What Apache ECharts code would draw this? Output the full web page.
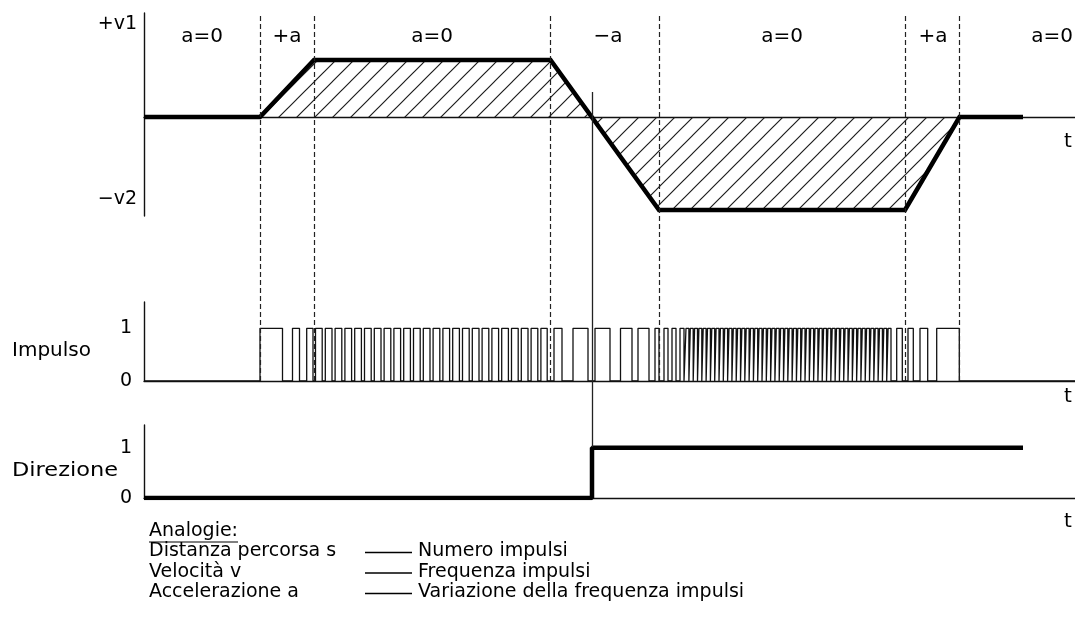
<!DOCTYPE html>
<html>
<head>
<meta charset="utf-8">
<script src="https://cdn.jsdelivr.net/npm/echarts@6/dist/echarts.min.js"></script>
<style>
  html, body { margin: 0; padding: 0; background: #fff; }
  #chart { width: 1075px; height: 623px; }
</style>
</head>
<body>
<div id="chart"></div>
<script>
// Time axis (ms) shared by all three traces
const T_MAX = 931;

// Velocity profile breakpoints
const velTime  = [0, 116, 170, 406.5, 515, 761, 815.5, 879];
const velValue = [0, 0, 2.85, 2.85, -4.65, -4.65, 0, 0];

// Acceleration phases written above the velocity trace
const phaseNames = ['a=0', '+a', 'a=0', '\u2212a', 'a=0', '+a', 'a=0'];
const phaseTime  = [58, 143, 288, 464, 638, 789, 908];
const phaseBoundaries = [116, 170, 406.5, 515, 761, 815.5];

// Direction signal
const dirTime  = [0, 448, 448, 879];
const dirValue = [0, 0, 1, 1];
const dirSwitch = 448;

// Pulse train: rising and falling edges (ms)
const pulseRise = [
  116, 148.5, 162.7,
  171.5, 181.3, 191.1, 200.9, 210.7, 220.5, 230.3, 240.1, 249.9, 259.7, 269.5, 279.3,
  289.1, 298.9, 308.7, 318.5, 328.3, 338.1, 347.9, 357.7, 367.5, 377.3, 387.1, 396.9,
  410, 429, 451, 476.5, 494, 511, 520, 528, 536,
  542.0, 546.3, 550.6, 554.9, 559.2, 563.5, 567.8, 572.1, 576.4, 580.7, 585.0, 589.3,
  593.6, 597.9, 602.2, 606.5, 610.8, 615.1, 619.4, 623.7, 628.0, 632.3, 636.6, 640.9,
  645.2, 649.5, 653.8, 658.1, 662.4, 666.7, 671.0, 675.3, 679.6, 683.9, 688.2, 692.5,
  696.8, 701.1, 705.4, 709.7, 714.0, 718.3, 722.6, 726.9, 731.2, 735.5, 739.8, 744.1,
  752.7, 764, 776, 792.7
];
const pulseFall = [
  138.5, 155.5, 169,
  178.2, 188.0, 197.8, 207.6, 217.4, 227.2, 237.0, 246.8, 256.6, 266.4, 276.2, 286.0,
  295.8, 305.6, 315.4, 325.2, 335.0, 344.8, 354.6, 364.4, 374.2, 384.0, 393.8, 403.2,
  418, 444, 466, 488, 505, 515, 524, 532, 540,
  544.9, 549.2, 553.5, 557.8, 562.1, 566.4, 570.7, 575.0, 579.3, 583.6, 587.9, 592.2,
  596.5, 600.8, 605.1, 609.4, 613.7, 618.0, 622.3, 626.6, 630.9, 635.2, 639.5, 643.8,
  648.1, 652.4, 656.7, 661.0, 665.3, 669.6, 673.9, 678.2, 682.5, 686.8, 691.1, 695.4,
  699.7, 704.0, 708.3, 712.6, 716.9, 721.2, 725.5, 729.8, 734.1, 738.4, 742.7, 747.0,
  758.3, 769.3, 783.7, 815.3
];

// Legend of analogies
const analogyTitle = 'Analogie:';
const analogyLeft  = ['Distanza percorsa s', 'Velocit\u00e0 v', 'Accelerazione a'];
const analogyRight = ['Numero impulsi', 'Frequenza impulsi', 'Variazione della frequenza impulsi'];

const FONT = '"DejaVu Sans", "Liberation Sans", sans-serif';
const INK = '#111';

// ---- derived series data ----
const velData = velTime.map((t, i) => [t, velValue[i]]);
const dirData = dirTime.map((t, i) => [t, dirValue[i]]);
const pulseData = [[0, 0]];
pulseRise.forEach((r, i) => {
  pulseData.push([r, 0], [r, 1], [pulseFall[i], 1], [pulseFall[i], 0]);
});
pulseData.push([T_MAX, 0]);

// diagonal hatch used to fill the area under the velocity trace
function hatchPattern() {
  const s = 18;
  const c = document.createElement('canvas');
  c.width = s; c.height = s;
  const g = c.getContext('2d');
  g.strokeStyle = '#1a1a1a';
  g.lineWidth = 1.15;
  for (const dx of [-s, 0, s]) {
    g.beginPath();
    g.moveTo(dx - 2, s + 2);
    g.lineTo(dx + s + 2, -2);
    g.stroke();
  }
  return c;
}

function textWidth(str, size) {
  const c = document.createElement('canvas').getContext('2d');
  c.font = size + 'px ' + FONT;
  return c.measureText(str).width;
}

const left = 144;
const grids = [
  { left: left, right: 0, top: 13,  height: 203 },  // velocity
  { left: left, right: 0, top: 302, height: 79 },   // pulses
  { left: left, right: 0, top: 425, height: 73 },   // direction
  { left: left, right: 0, top: 13,  height: 368 },  // phase boundaries
  { left: left, right: 0, top: 92,  height: 355 }   // direction change marker
];

const hiddenX = i => ({ type: 'value', gridIndex: i, min: 0, max: T_MAX, show: false });
const lineAxisStyle = { show: true, onZero: true, lineStyle: { color: INK, width: 1.4 } };
const traceX = i => ({ type: 'value', gridIndex: i, min: 0, max: T_MAX, axisLine: lineAxisStyle,
  axisTick: { show: false }, axisLabel: { show: false }, splitLine: { show: false } });

const xAxes = [traceX(0), traceX(1), traceX(2), hiddenX(3), hiddenX(4)];

const levelLabel = {
  show: true, color: '#000', fontSize: 19, fontFamily: FONT, margin: 12,
  formatter: v => (v === 0 || v === 1) ? String(v) : ''
};
const vAxisLine = { show: true, onZero: false, lineStyle: { color: INK, width: 1.4 } };
const yAxes = [
  { type: 'value', gridIndex: 0, min: -4.95, max: 5.2, axisLine: vAxisLine,
    axisTick: { show: false }, axisLabel: { show: false }, splitLine: { show: false } },
  { type: 'value', gridIndex: 1, min: 0, max: 1.5, interval: 1, axisLine: vAxisLine,
    axisTick: { show: false }, axisLabel: levelLabel, splitLine: { show: false } },
  { type: 'value', gridIndex: 2, min: 0, max: 1.45, interval: 1, axisLine: vAxisLine,
    axisTick: { show: false }, axisLabel: levelLabel, splitLine: { show: false } },
  { type: 'value', gridIndex: 3, min: 0, max: 1, show: false },
  { type: 'value', gridIndex: 4, min: 0, max: 1, show: false }
];

const series = [
  {
    name: 'velocit\u00e0', type: 'line', xAxisIndex: 0, yAxisIndex: 0,
    data: velData, symbol: 'none', z: 4,
    lineStyle: { color: '#000', width: 4.5, join: 'miter' },
    areaStyle: { origin: 0, opacity: 1, color: { image: hatchPattern(), repeat: 'repeat' } }
  },
  {
    name: 'fasi', type: 'scatter', xAxisIndex: 0, yAxisIndex: 0,
    data: phaseTime.map(t => [t, 4.0]), symbolSize: 0.01, silent: true,
    itemStyle: { color: '#000', opacity: 1 },
    label: { show: true, position: 'inside', color: '#000', opacity: 1,
      textBorderWidth: 0, fontSize: 20, fontFamily: FONT,
      formatter: p => phaseNames[p.dataIndex] }
  },
  {
    name: 'impulso', type: 'line', xAxisIndex: 1, yAxisIndex: 1,
    data: pulseData, symbol: 'none', z: 3,
    lineStyle: { color: '#111', width: 1.3 }
  },
  {
    name: 'direzione', type: 'line', xAxisIndex: 2, yAxisIndex: 2,
    data: dirData, symbol: 'none', z: 4,
    lineStyle: { color: '#000', width: 4.5 }
  },
  {
    name: 'confini', type: 'line', xAxisIndex: 3, yAxisIndex: 3, data: [],
    markLine: {
      silent: true, symbol: ['none', 'none'], label: { show: false }, animation: false,
      lineStyle: { color: '#222', width: 1.2, type: [5, 3] },
      data: phaseBoundaries.map(t => ({ xAxis: t }))
    }
  },
  {
    name: 'inversione', type: 'line', xAxisIndex: 4, yAxisIndex: 4, data: [],
    markLine: {
      silent: true, symbol: ['none', 'none'], label: { show: false }, animation: false,
      lineStyle: { color: '#222', width: 1.3, type: 'solid' },
      data: [{ xAxis: dirSwitch }]
    }
  }
];

// text element; optional target width stretches the glyphs horizontally
const txt = (text, x, y, size, align, width) => {
  const sx = width ? width / textWidth(text, size) : 1;
  return {
    type: 'text', x: x, y: y, scaleX: sx, silent: true,
    style: { text: text, fill: '#000', font: size + 'px ' + FONT,
      textAlign: align || 'left', textVerticalAlign: 'middle' }
  };
};

const LEG_X = 149, LEG_Y = 531, LEG_STEP = 20.5, LEG_SIZE = 19;
const graphics = [
  txt('+v1', 137, 24, 19, 'right'),
  txt('\u2212v2', 137, 199, 19, 'right'),
  txt('Impulso', 12, 351, 20, 'left'),
  txt('Direzione', 12, 471, 20, 'left', 106),
  txt('t', 1068, 142, 20, 'center'),
  txt('t', 1068, 397, 20, 'center'),
  txt('t', 1068, 522, 20, 'center'),
  txt(analogyTitle, LEG_X, LEG_Y, LEG_SIZE, 'left'),
  { type: 'line', silent: true,
    shape: { x1: LEG_X, y1: LEG_Y + 11, x2: LEG_X + textWidth(analogyTitle, LEG_SIZE), y2: LEG_Y + 11 },
    style: { stroke: '#000', lineWidth: 1.2 } }
];
analogyLeft.forEach((s, i) => {
  const y = LEG_Y + LEG_STEP * (i + 1);
  graphics.push(txt(s, LEG_X, y, LEG_SIZE, 'left'));
  graphics.push({ type: 'line', silent: true,
    shape: { x1: 365, y1: y + 1, x2: 412, y2: y + 1 },
    style: { stroke: '#000', lineWidth: 1.3 } });
  graphics.push(txt(analogyRight[i], 418, y, LEG_SIZE, 'left'));
});

const chart = echarts.init(document.getElementById('chart'), null, { renderer: 'canvas' });
chart.setOption({
  backgroundColor: '#fff',
  animation: false,
  grid: grids,
  xAxis: xAxes,
  yAxis: yAxes,
  series: series,
  graphic: graphics
});
</script>
</body>
</html>
